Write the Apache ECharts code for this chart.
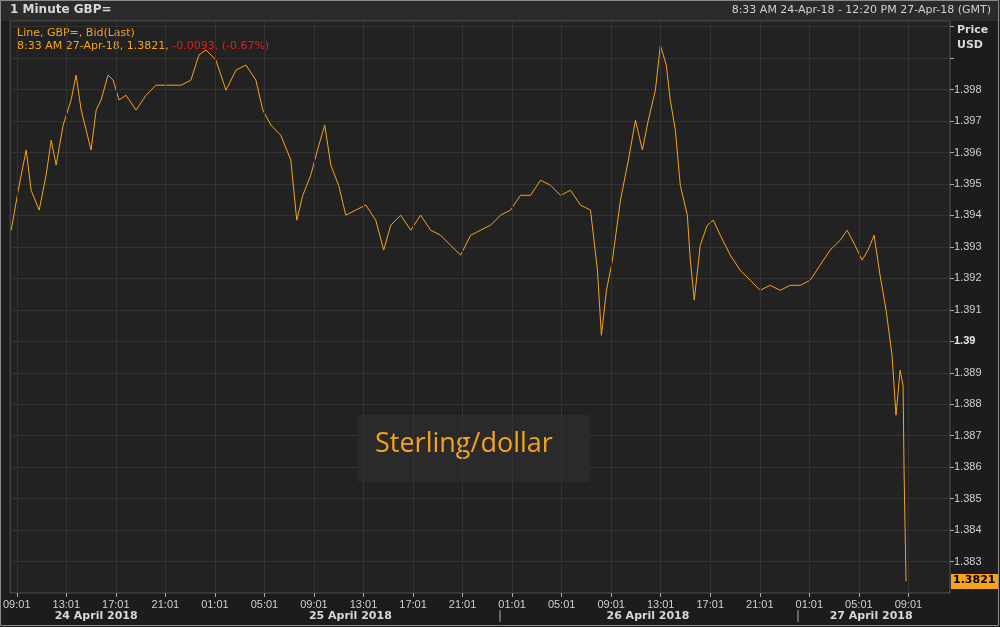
<!DOCTYPE html>
<html><head><meta charset="utf-8">
<script src="https://cdn.jsdelivr.net/npm/echarts@6/dist/echarts.min.js"></script>
<style>html,body{margin:0;padding:0;background:#1c1c1c}#c{width:1000px;height:627px}</style>
</head><body><div id="c"></div>
<script>
// hours since 24-Apr-2018 00:00 GMT
const hours = [8.55,9.12,9.76,10.16,10.81,11.37,11.78,12.18,12.74,13.39,13.79,14.2,15.0,15.41,15.81,16.37,16.78,17.26,17.82,18.63,19.44,20.24,21.05,22.26,23.06,23.71,24.28,25.08,25.89,26.7,27.5,28.31,28.87,29.52,30.32,31.13,31.61,32.1,32.74,33.39,33.87,34.36,34.99,35.57,36.37,37.18,37.99,38.63,39.2,40.0,40.81,41.61,42.42,43.23,44.03,44.84,45.65,46.45,47.26,48.07,48.87,49.68,50.49,51.29,52.1,52.91,53.71,54.52,55.33,55.89,56.21,56.62,57.1,57.75,58.39,58.96,59.52,60.0,60.57,60.97,61.45,61.77,62.18,62.58,63.15,63.39,63.71,64.19,64.76,65.24,65.81,66.61,67.42,68.23,69.03,69.84,70.65,71.45,72.26,73.07,73.87,74.68,75.49,76.05,76.69,77.26,77.74,78.23,78.71,79.2,79.68,80.0,80.33,80.57,80.65,80.81];
const prices = [1.39326,1.39453,1.39581,1.39453,1.3939,1.39501,1.39612,1.39533,1.3966,1.3974,1.39819,1.39708,1.39581,1.39708,1.3974,1.39819,1.39803,1.3974,1.39755,1.39708,1.39755,1.39787,1.39787,1.39787,1.39803,1.39883,1.39899,1.39867,1.39771,1.39835,1.39851,1.39803,1.39708,1.3966,1.39628,1.39549,1.39358,1.39437,1.39501,1.39596,1.3966,1.39533,1.39469,1.39374,1.3939,1.39406,1.39358,1.39263,1.39342,1.39374,1.39326,1.39374,1.39326,1.3931,1.39278,1.39247,1.3931,1.39326,1.39342,1.39374,1.3939,1.39437,1.39437,1.39485,1.39469,1.39437,1.39453,1.39406,1.3939,1.39199,1.38992,1.39135,1.39231,1.39422,1.39549,1.39676,1.39581,1.39676,1.39771,1.39914,1.39851,1.3974,1.39644,1.39469,1.39374,1.39231,1.39104,1.39278,1.39342,1.39358,1.3931,1.39247,1.39199,1.39167,1.39135,1.39151,1.39135,1.39151,1.39151,1.39167,1.39215,1.39263,1.39294,1.39326,1.39278,1.39231,1.39263,1.3931,1.39183,1.39072,1.38929,1.38738,1.38881,1.38833,1.38563,1.3821];
const tickHours = [9,13,17,21,25,29,33,37,41,45,49,53,57,61,65,69,73,77,81];
const tickLabels = ["09:01","13:01","17:01","21:01","01:01","05:01","09:01","13:01","17:01","21:01","01:01","05:01","09:01","13:01","17:01","21:01","01:01","05:01","09:01"];
const dayLabels = ["24 April 2018","25 April 2018","26 April 2018","27 April 2018"];
const dayCenters = [15.5,36,60,78];

const chart = echarts.init(document.getElementById('c'));
const X0=8.47, X1=84.36, L=9, R=950, B=593;
const px = h => L + (h-X0)/(X1-X0)*(R-L);
const gfx = [
  {type:'rect',shape:{x:0,y:0,width:1000,height:21},style:{fill:'#2b2b2b'},z:-1},
  {type:'rect',shape:{x:0.5,y:0.5,width:998,height:625},style:{fill:null,stroke:'#8a8a8a',lineWidth:1},z:10},
  {type:'text',left:10,top:4,style:{text:'1 Minute GBP=',fill:'#d8d8d8',font:'bold 12px Tahoma, "DejaVu Sans", sans-serif'}},
  {type:'text',right:9,top:5,style:{text:'8:33 AM 24-Apr-18 - 12:20 PM 27-Apr-18 (GMT)',fill:'#d0d0d0',font:'11px "DejaVu Sans", sans-serif'}},
  {type:'text',left:957,top:23,style:{text:'Price\nUSD',fill:'#d8d8d8',font:'bold 11px "DejaVu Sans", sans-serif',lineHeight:15}},
  {type:'text',left:17,top:28,style:{text:'Line, GBP=, Bid(Last)',fill:'#f7a21b',font:'11px "DejaVu Sans", sans-serif'}},
  {type:'text',left:17,top:41,style:{rich:{a:{fill:'#f7a21b',font:'11px "DejaVu Sans", sans-serif'},b:{fill:'#e02020',font:'11px "DejaVu Sans", sans-serif'}},text:'{a|8:33 AM 27-Apr-18, 1.3821, }{b|-0.0093, (-0.67%)}'}},
  {type:'rect',shape:{x:358,y:415,width:232,height:67},style:{fill:'#2a2a2a'},z:1},
  {type:'text',left:375,top:431,z:2,style:{text:'Sterling/dollar',fill:'#f7a21b',font:'27px "Open Sans", "DejaVu Sans", sans-serif'}},
  {type:'rect',shape:{x:951,y:574,width:47,height:15},style:{fill:'#f7a21b'},z:5},
  {type:'text',left:953,top:575,z:6,style:{text:'1.3821',fill:'#000',font:'bold 11px "DejaVu Sans", sans-serif'}},
  {type:'line',shape:{x1:500,y1:610,x2:500,y2:622},style:{stroke:'#aaa'}},
  {type:'line',shape:{x1:798,y1:610,x2:798,y2:622},style:{stroke:'#aaa'}}
];
dayLabels.forEach((t,i)=>gfx.push({type:'text',x:px(dayCenters[i]),y:611,style:{text:t,fill:'#d8d8d8',font:'bold 11px "DejaVu Sans", sans-serif',textAlign:'center'}}));

chart.setOption({
  backgroundColor:'#1c1c1c',
  animation:false,
  grid:{left:L,right:1000-R,top:21,bottom:627-B,backgroundColor:'#222222',show:true,borderColor:'#555',borderWidth:1},
  xAxis:{type:'value',min:X0,max:X1,
    axisLine:{show:false},
    axisTick:{show:true,customValues:tickHours,inside:false,length:4,lineStyle:{color:'#aaa'}},
    axisLabel:{customValues:tickHours,color:'#d0d0d0',fontSize:11,margin:6,
      formatter:(v)=>{const i=tickHours.indexOf(Math.round(v));return i>=0?tickLabels[i]:'';}},
    splitLine:{show:false}},
  yAxis:{type:'value',position:'right',min:1.38173,max:1.39991,interval:0.001,
    axisLine:{show:false},
    axisTick:{show:true,length:4,lineStyle:{color:'#aaa'}},
    axisLabel:{showMinLabel:false,showMaxLabel:false,color:'#d0d0d0',fontSize:11,margin:4,
      formatter:v=>{if(v>1.3985)return '';const s=(+v.toFixed(3)).toString();return s==='1.39'?'{b|1.39}':s;},
      rich:{b:{fontWeight:'bold',color:'#e8e8e8',fontSize:11}}},
    splitLine:{show:true,lineStyle:{color:'#333'}}},
  graphic:gfx,
  series:[{type:'line',data:hours.map((h,i)=>[h,prices[i]]),showSymbol:false,
    lineStyle:{color:'#f7a21b',width:1},
    markLine:{silent:true,symbol:'none',label:{show:false},lineStyle:{color:'#333',type:'solid',width:1},
      data:tickHours.map(h=>({xAxis:h}))}}]
});
</script></body></html>
